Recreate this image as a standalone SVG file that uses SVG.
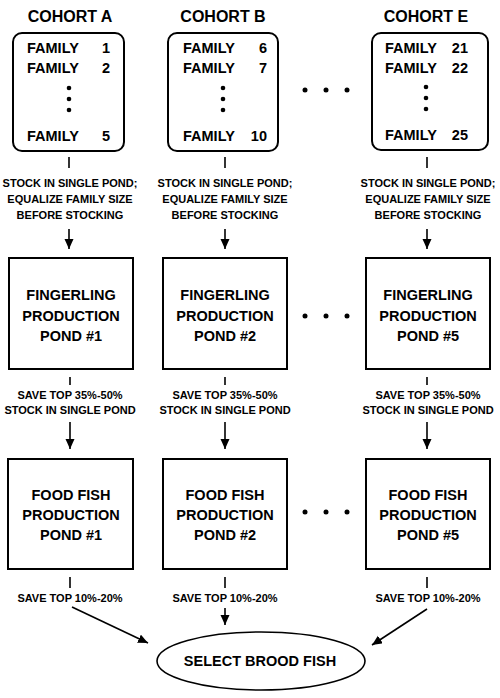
<svg xmlns="http://www.w3.org/2000/svg" width="500" height="698" viewBox="0 0 500 698">
<style>
text{font-family:"Liberation Sans",Arial,Helvetica,sans-serif;font-weight:bold;fill:#000}
.title{font-size:16px;text-anchor:middle}
.fam{font-size:14.5px}
.num{font-size:14.5px;text-anchor:end}
.box{fill:#fff;stroke:#000;stroke-width:2}
.big{font-size:14.5px;text-anchor:middle}
.small{font-size:11px;text-anchor:middle}
.ln{stroke:#000;stroke-width:1.6;fill:none}
.arr{stroke:#000;stroke-width:1.6;fill:none;marker-end:url(#ah)}
.dot{fill:#000}
</style>
<defs>
<marker id="ah" markerUnits="userSpaceOnUse" markerWidth="11" markerHeight="10" refX="10" refY="4.5" orient="auto">
<path d="M0,0 L10,4.5 L0,9 Z" fill="#000"/>
</marker>
</defs>
<rect width="500" height="698" fill="#fff"/>

<!-- titles -->
<g id="titles">
<text class="title" x="70" y="22">COHORT A</text>
<text class="title" x="223" y="22">COHORT B</text>
<text class="title" x="426" y="22">COHORT E</text>
</g>

<g id="cohortA">
<rect class="box" x="13" y="33" width="111" height="118" rx="9"/>
<text class="fam" x="27" y="53">FAMILY</text><text class="num" x="110" y="53">1</text>
<text class="fam" x="27" y="73">FAMILY</text><text class="num" x="110" y="73">2</text>
<circle class="dot" cx="69" cy="88" r="2.3"/><circle class="dot" cx="69" cy="99" r="2.3"/><circle class="dot" cx="69" cy="110" r="2.3"/>
<text class="fam" x="27" y="141">FAMILY</text><text class="num" x="110" y="141">5</text>
</g>

<g id="cohortB">
<rect class="box" x="168" y="33" width="110" height="118" rx="9"/>
<text class="fam" x="183" y="53">FAMILY</text><text class="num" x="267" y="53">6</text>
<text class="fam" x="183" y="73">FAMILY</text><text class="num" x="267" y="73">7</text>
<circle class="dot" cx="223" cy="88" r="2.3"/><circle class="dot" cx="223" cy="99" r="2.3"/><circle class="dot" cx="223" cy="110" r="2.3"/>
<text class="fam" x="183" y="141">FAMILY</text><text class="num" x="267" y="141">10</text>
</g>

<g id="cohortE">
<rect class="box" x="372" y="33" width="116" height="117" rx="9"/>
<text class="fam" x="385" y="53">FAMILY</text><text class="num" x="468" y="53">21</text>
<text class="fam" x="385" y="73">FAMILY</text><text class="num" x="468" y="73">22</text>
<circle class="dot" cx="426" cy="87" r="2.3"/><circle class="dot" cx="426" cy="98" r="2.3"/><circle class="dot" cx="426" cy="109" r="2.3"/>
<text class="fam" x="385" y="140">FAMILY</text><text class="num" x="468" y="140">25</text>
</g>

<g id="fingA">
<rect class="box" x="9" y="258" width="124" height="111"/>
<text class="big" x="71" y="300">FINGERLING</text>
<text class="big" x="71" y="321">PRODUCTION</text>
<text class="big" x="71" y="341">POND #1</text>
</g>
<g id="fingB">
<rect class="box" x="163" y="258" width="124" height="111"/>
<text class="big" x="225" y="300">FINGERLING</text>
<text class="big" x="225" y="321">PRODUCTION</text>
<text class="big" x="225" y="341">POND #2</text>
</g>
<g id="fingE">
<rect class="box" x="366" y="258" width="124" height="111"/>
<text class="big" x="428" y="300">FINGERLING</text>
<text class="big" x="428" y="321">PRODUCTION</text>
<text class="big" x="428" y="341">POND #5</text>
</g>

<g id="foodA">
<rect class="box" x="8" y="459" width="125" height="110"/>
<text class="big" x="71" y="500">FOOD FISH</text>
<text class="big" x="71" y="520">PRODUCTION</text>
<text class="big" x="71" y="540">POND #1</text>
</g>
<g id="foodB">
<rect class="box" x="163" y="459" width="124" height="110"/>
<text class="big" x="225" y="500">FOOD FISH</text>
<text class="big" x="225" y="520">PRODUCTION</text>
<text class="big" x="225" y="540">POND #2</text>
</g>
<g id="foodE">
<rect class="box" x="366" y="459" width="124" height="110"/>
<text class="big" x="428" y="500">FOOD FISH</text>
<text class="big" x="428" y="520">PRODUCTION</text>
<text class="big" x="428" y="540">POND #5</text>
</g>

<g id="brood">
<ellipse cx="261" cy="661" rx="104" ry="29" fill="#fff" stroke="#000" stroke-width="1.6"/>
<text class="big" x="260" y="666">SELECT BROOD FISH</text>
</g>

<g id="ellipsis">
<circle class="dot" cx="305" cy="90" r="2.5"/><circle class="dot" cx="326" cy="90" r="2.5"/><circle class="dot" cx="347" cy="90" r="2.5"/>
<circle class="dot" cx="305" cy="316" r="2.5"/><circle class="dot" cx="326" cy="316" r="2.5"/><circle class="dot" cx="347" cy="316" r="2.5"/>
<circle class="dot" cx="305" cy="512" r="2.5"/><circle class="dot" cx="326" cy="512" r="2.5"/><circle class="dot" cx="347" cy="512" r="2.5"/>
</g>

<g id="connectors">
<!-- family to fingerling -->
<line class="ln" x1="69" y1="157" x2="69" y2="168"/>
<line class="ln" x1="225" y1="157" x2="225" y2="168"/>
<line class="ln" x1="427" y1="157" x2="427" y2="168"/>
<line class="arr" x1="69" y1="229" x2="69" y2="249"/>
<line class="arr" x1="225" y1="229" x2="225" y2="249"/>
<line class="arr" x1="427" y1="229" x2="427" y2="249"/>
<!-- fingerling to food -->
<line class="ln" x1="70" y1="377" x2="70" y2="385"/>
<line class="ln" x1="225" y1="377" x2="225" y2="385"/>
<line class="ln" x1="427" y1="377" x2="427" y2="385"/>
<line class="arr" x1="70" y1="422" x2="70" y2="449"/>
<line class="arr" x1="225" y1="422" x2="225" y2="449"/>
<line class="arr" x1="427" y1="422" x2="427" y2="449"/>
<!-- food to brood -->
<line class="ln" x1="70" y1="577" x2="70" y2="588"/>
<line class="ln" x1="225" y1="577" x2="225" y2="588"/>
<line class="ln" x1="427" y1="577" x2="427" y2="588"/>
<line class="arr" x1="72" y1="607" x2="148" y2="643"/>
<line class="arr" x1="225" y1="608" x2="225" y2="625"/>
<line class="arr" x1="427" y1="609" x2="372" y2="645"/>
</g>

<g id="labels">
<text class="small" x="70" y="187">STOCK IN SINGLE POND;</text>
<text class="small" x="70" y="203">EQUALIZE FAMILY SIZE</text>
<text class="small" x="70" y="219">BEFORE STOCKING</text>
<text class="small" x="225" y="187">STOCK IN SINGLE POND;</text>
<text class="small" x="225" y="203">EQUALIZE FAMILY SIZE</text>
<text class="small" x="225" y="219">BEFORE STOCKING</text>
<text class="small" x="428" y="187">STOCK IN SINGLE POND;</text>
<text class="small" x="428" y="203">EQUALIZE FAMILY SIZE</text>
<text class="small" x="428" y="219">BEFORE STOCKING</text>
<text class="small" x="70" y="399">SAVE TOP 35%-50%</text>
<text class="small" x="70" y="414">STOCK IN SINGLE POND</text>
<text class="small" x="225" y="399">SAVE TOP 35%-50%</text>
<text class="small" x="225" y="414">STOCK IN SINGLE POND</text>
<text class="small" x="428" y="399">SAVE TOP 35%-50%</text>
<text class="small" x="428" y="414">STOCK IN SINGLE POND</text>
<text class="small" x="70" y="602">SAVE TOP 10%-20%</text>
<text class="small" x="225" y="602">SAVE TOP 10%-20%</text>
<text class="small" x="428" y="602">SAVE TOP 10%-20%</text>
</g>
</svg>
